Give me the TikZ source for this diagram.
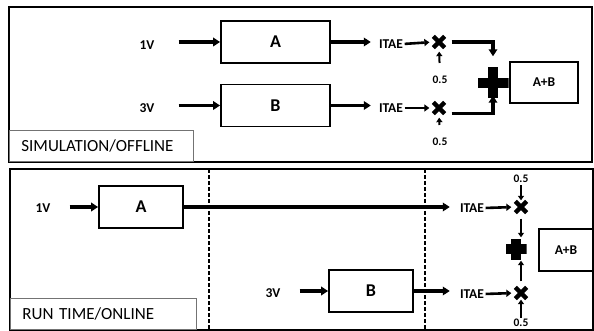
\documentclass[tikz,border=0pt]{standalone}
\usepackage{fontspec}
\setmainfont{Carlito}
\usetikzlibrary{positioning,arrows.meta,shapes.misc,calc}

\begin{document}
\begin{tikzpicture}[x=1pt,y=-1pt,
        panel/.style={draw, line width=1.6pt},
        tag/.style={draw=black!55, line width=0.8pt, anchor=south west,
                    inner xsep=12pt, inner ysep=0pt, minimum height=31pt,
                    font=\fontsize{17}{17}\selectfont},
        blk/.style={draw, line width=1.8pt, inner sep=0pt,
                    minimum width=109pt, minimum height=42pt,
                    font=\fontsize{18}{18}\selectfont\bfseries},
        sblk/.style={blk, minimum width=84pt},
        lbl/.style={inner sep=0pt, font=\fontsize{13.5}{13.5}\selectfont\bfseries},
        half/.style={inner sep=0pt, font=\fontsize{11.5}{11.5}\selectfont\bfseries},
        mul/.style={cross out, draw, line width=4.3pt, minimum size=7pt,
                    inner sep=0pt},
        plus/.style={inner sep=0pt, minimum width=#1, minimum height=#1,
                     path picture={
                       \fill ($(path picture bounding box.west)+(0,-5pt)$)
                         rectangle ($(path picture bounding box.east)+(0,5pt)$);
                       \fill ($(path picture bounding box.north)+(-5pt,0)$)
                         rectangle ($(path picture bounding box.south)+(5pt,0)$);}},
        arr/.style={-{Triangle[length=7pt,width=8.5pt]}, line width=3.2pt},
        sarr/.style={-{Triangle[length=5pt,width=7pt]}, line width=2.6pt},
        varr/.style={-{Triangle[length=4.5pt,width=6pt]}, line width=2pt},
        sep/.style={line width=1.1pt, dash pattern=on 4pt off 2pt}
      ]
        \useasboundingbox (0,0) rectangle (594,331);

        % simulation / offline
        \draw[panel] (9,7) rectangle (592,162);
        \node[tag, text width=160pt] (simtag) at (9,162) {SIMULATION/OFFLINE};

        \node[blk] (blkA) at (275.5,42) {A};
        \node[blk] (blkB) at (275.5,105.5) {B};
        \node[lbl] (v1) at (147,45) {1V};
        \node[lbl] (v3) at (147,108) {3V};
        \node[lbl] (itaeA) at (391,44) {ITAE};
        \node[lbl] (itaeB) at (391,108) {ITAE};
        \node[mul] (mulA) at (439,42) {};
        \node[mul] (mulB) at (439,108) {};
        \node[half] (kA) at (440,80) {0.5};
        \node[half] (kB) at (440,142) {0.5};
        \node[plus=31pt] (sumT) at (493,83) {};
        \node[draw, line width=1.8pt, minimum width=68pt, minimum height=41pt,
              inner sep=0pt, lbl] (abT) at (544,82.5) {A+B};

        \draw[arr, shorten <=24pt] (v1.east |- blkA.west) -- (blkA.west);
        \draw[arr, shorten <=24pt] (v3.east |- blkB.west) -- (blkB.west);
        \draw[arr, shorten >=8pt] (blkA.east) -- (blkA.east -| itaeA.west);
        \draw[arr, shorten >=8pt] (blkB.east) -- (blkB.east -| itaeB.west);
        \draw[sarr, shorten <=1.5pt, shorten >=4pt] (itaeA.east) -- (mulA.west);
        \draw[sarr, shorten <=1.5pt, shorten >=4pt] (itaeB.east) -- (mulB.west);
        \draw[varr, shorten <=13pt, shorten >=4pt] (kA.north) -- (mulA.south);
        \draw[varr, shorten <=13pt, shorten >=4pt] (kB.north) -- (mulB.south);
        \draw[arr, shorten <=7pt, shorten >=11pt] (mulA.east) -| (sumT.north);
        \draw[arr, shorten <=7pt, shorten >=-3pt] (mulB.south east) -| (sumT.south);

        % run time / online
        \draw[panel] (10,169) rectangle (593,330);
        \node[tag, text width=162pt] (runtag) at (10,330) {RUN TIME/ONLINE};
        \draw[sep] (209,169) -- (209,330);
        \draw[sep] (425,169) -- (425,330);

        \node[sblk] (blkAr) at (141,207) {A};
        \node[sblk] (blkBr) at (371,291) {B};
        \node[lbl] (v1r) at (43,208) {1V};
        \node[lbl] (v3r) at (273,293) {3V};
        \node[lbl] (itaeAr) at (472,208) {ITAE};
        \node[lbl] (itaeBr) at (472,294) {ITAE};
        \node[mul] (mulAr) at (521,207) {};
        \node[mul] (mulBr) at (521,293) {};
        \node[half] (kAr) at (521,179) {0.5};
        \node[half] (kBr) at (521,323) {0.5};
        \node[plus=21pt] (sumB) at (516,249) {};
        \node[draw, line width=1.8pt, minimum width=54pt, minimum height=42pt,
              inner sep=0pt, lbl] (abB) at (566,250) {A+B};

        \draw[arr, shorten <=19pt] (v1r.east |- blkAr.west) -- (blkAr.west);
        \draw[arr, shorten <=19pt] (v3r.east |- blkBr.west) -- (blkBr.west);
        \draw[arr, shorten >=10pt] (blkAr.east) -- (blkAr.east -| itaeAr.west);
        \draw[arr, shorten >=10pt] (blkBr.east) -- (blkBr.east -| itaeBr.west);
        \draw[sarr, shorten <=1.5pt, shorten >=4pt] (itaeAr.east) -- (mulAr.west);
        \draw[sarr, shorten <=1.5pt, shorten >=4pt] (itaeBr.east) -- (mulBr.west);
        \draw[varr, shorten <=2pt, shorten >=1pt] (kAr.south) -- (mulAr.north);
        \draw[varr, shorten <=1pt, shorten >=1pt] (kBr.north) -- (mulBr.south);
        \draw[varr, shorten <=6pt, shorten >=1pt] (mulAr.south) -- (mulAr.south |- sumB.north);
        \draw[varr, shorten <=6pt, shorten >=1pt] (mulBr.north) -- (mulBr.north |- sumB.south);
      \end{tikzpicture}
\end{document}
